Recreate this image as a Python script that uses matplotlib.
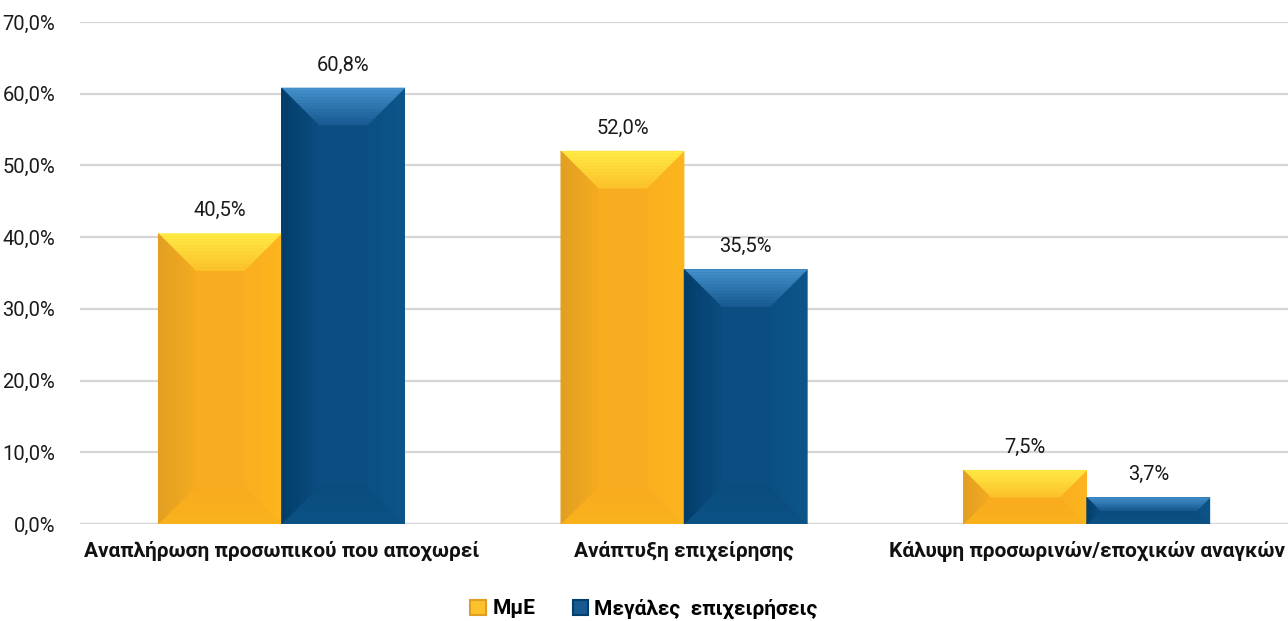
import matplotlib
matplotlib.use("Agg")
import numpy as np
import matplotlib.pyplot as plt
from matplotlib.colors import to_rgb
from matplotlib.patches import Polygon, Patch

# Data
categories = [
    "Αναπλήρωση προσωπικού που αποχωρεί",
    "Ανάπτυξη επιχείρησης",
    "Κάλυψη προσωρινών/εποχικών αναγκών",
]
sme_values = [40.5, 52.0, 7.5]
large_values = [60.8, 35.5, 3.7]
series_names = ["ΜμΕ", "Μεγάλες  επιχειρήσεις"]
y_ticks = [0, 10, 20, 30, 40, 50, 60, 70]

# bevel colours: centre, then (outer edge, inner edge) per face
yellow = {"c": "#F8AD20",
          "top": ("#FFEB44", "#FCC22B"), "bottom": ("#F9B21C", "#F8AB1F"),
          "left": ("#E19E22", "#F4AA20"), "right": ("#FDB51E", "#F9AF1F")}
blue = {"c": "#0B4F82",
        "top": ("#4592CE", "#185A90"), "bottom": ("#0C5285", "#0A4C7E"),
        "left": ("#033D69", "#0A4D80"), "right": ("#0D5589", "#0B5083")}

plt.rcParams["font.family"] = ["Roboto", "DejaVu Sans"]


def fmt_pct(v):
    return f"{v:.1f}%".replace(".", ",")


def mix(c0, c1, t):
    a, b = np.array(to_rgb(c0)), np.array(to_rgb(c1))
    return tuple(a + (b - a) * t)


def bevel(ax, bar, cols, depth=37, strips=12):
    # mitred frame of four shaded faces around a flat centre, sized in pixels
    x0, y0 = bar.get_x(), bar.get_y()
    x1, y1 = x0 + bar.get_width(), y0 + bar.get_height()
    (px0, py0), (px1, py1) = ax.transData.transform([(x0, y0), (x1, y1)])
    d = min(depth, (py1 - py0) / 2, (px1 - px0) / 2)
    inv = ax.transData.inverted()

    def add(pts, col):
        ax.add_patch(Polygon(inv.transform(pts), closed=True, facecolor=col,
                             edgecolor=col, linewidth=0.4, zorder=3))

    add([(px0 + d, py0 + d), (px1 - d, py0 + d), (px1 - d, py1 - d), (px0 + d, py1 - d)], cols["c"])

    o = np.array([(px0, py0), (px1, py0), (px1, py1), (px0, py1)])
    n = np.array([(px0 + d, py0 + d), (px1 - d, py0 + d), (px1 - d, py1 - d), (px0 + d, py1 - d)])
    faces = {"bottom": (0, 1), "right": (1, 2), "top": (2, 3), "left": (3, 0)}
    for name, (i, j) in faces.items():
        c_out, c_in = cols[name]
        for k in range(strips):
            a, b = k / strips, (k + 1) / strips
            pa_i, pa_j = o[i] + (n[i] - o[i]) * a, o[j] + (n[j] - o[j]) * a
            pb_i, pb_j = o[i] + (n[i] - o[i]) * b, o[j] + (n[j] - o[j]) * b
            add([pa_i, pa_j, pb_j, pb_i], mix(c_out, c_in, (k + 0.5) / strips))


fig = plt.figure(figsize=(12.88, 6.21), dpi=100)
ax = fig.add_axes([0.0622, 0.1562, 0.9378, 0.8084])

x = np.arange(len(categories))
w = 0.306
bars_sme = ax.bar(x - w / 2, sme_values, w, color=yellow["c"], zorder=2)
bars_large = ax.bar(x + w / 2, large_values, w, color=blue["c"], zorder=2)

ax.set_xlim(-0.5, len(categories) - 0.5)
ax.set_ylim(0, 70)
ax.set_yticks(y_ticks)
ax.set_yticklabels([fmt_pct(v) for v in y_ticks], fontsize=14.5, color="#1A1A1A")
ax.set_xticks(x)
ax.set_xticklabels(categories, fontsize=15, fontweight="bold", color="#111111")
ax.tick_params(axis="y", length=0, pad=18)
ax.tick_params(axis="x", length=0, pad=12)
ax.grid(axis="y", color="#D6D6D6", linewidth=1.6, zorder=0)
ax.set_axisbelow(True)
for s in ax.spines.values():
    s.set_visible(False)
ax.axhline(0, color="#D6D6D6", linewidth=1.6, zorder=1)

for bars, cols in [(bars_sme, yellow), (bars_large, blue)]:
    for b in bars:
        bevel(ax, b, cols)
        ax.annotate(fmt_pct(b.get_height()), (b.get_x() + b.get_width() / 2, b.get_height()),
                    xytext=(0, 9.5), textcoords="offset points", ha="center", va="bottom",
                    fontsize=14.5, color="#1A1A1A")

handles = [Patch(facecolor=yellow["top"][1], edgecolor=yellow["left"][0], linewidth=1.5),
           Patch(facecolor=blue["top"][1], edgecolor=blue["left"][0], linewidth=1.5)]
leg = fig.legend(handles, series_names, loc="center", bbox_to_anchor=(0.5, 0.02),
                 ncol=2, frameon=False, handlelength=0.75, handleheight=0.75,
                 handletextpad=0.3, columnspacing=1.8,
                 prop={"size": 15, "weight": "bold"})

fig.savefig("out.png", dpi=100)
